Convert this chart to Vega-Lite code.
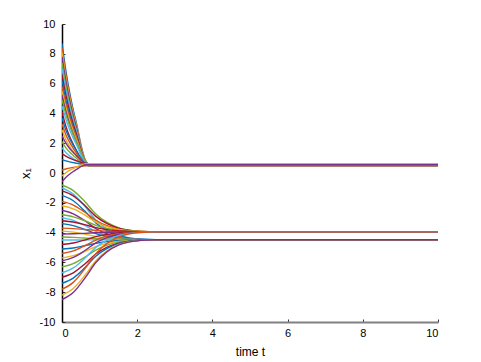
{
"$schema":"https://vega.github.io/schema/vega-lite/v6.json",
"width":376,"height":298,
"autosize":{"type":"none"},
"padding":{"left":62,"top":24,"right":43,"bottom":40},
"background":"white",
"config":{"view":{"stroke":null},"font":"Liberation Sans"},
"data":{"values":[
{"s":"u01","t":0,"v":8.7},{"s":"u01","t":0.1,"v":6.91},{"s":"u01","t":0.2,"v":5.44},{"s":"u01","t":0.3,"v":4.22},{"s":"u01","t":0.4,"v":3.16},{"s":"u01","t":0.5,"v":1.94},{"s":"u01","t":0.6,"v":0.97},{"s":"u01","t":0.7,"v":0.56},{"s":"u01","t":10,"v":0.56},
{"s":"u02","t":0,"v":8.4},{"s":"u02","t":0.1,"v":6.66},{"s":"u02","t":0.2,"v":5.23},{"s":"u02","t":0.3,"v":4.04},{"s":"u02","t":0.4,"v":3.01},{"s":"u02","t":0.5,"v":1.83},{"s":"u02","t":0.6,"v":0.88},{"s":"u02","t":0.7,"v":0.50},{"s":"u02","t":10,"v":0.50},
{"s":"u03","t":0,"v":8.1},{"s":"u03","t":0.1,"v":6.46},{"s":"u03","t":0.2,"v":5.12},{"s":"u03","t":0.3,"v":3.99},{"s":"u03","t":0.4,"v":3.03},{"s":"u03","t":0.5,"v":1.91},{"s":"u03","t":0.6,"v":1.01},{"s":"u03","t":0.7,"v":0.62},{"s":"u03","t":10,"v":0.62},
{"s":"u04","t":0,"v":7.8},{"s":"u04","t":0.1,"v":6.21},{"s":"u04","t":0.2,"v":4.90},{"s":"u04","t":0.3,"v":3.82},{"s":"u04","t":0.4,"v":2.88},{"s":"u04","t":0.5,"v":1.79},{"s":"u04","t":0.6,"v":0.92},{"s":"u04","t":0.7,"v":0.56},{"s":"u04","t":10,"v":0.56},
{"s":"u05","t":0,"v":7.4},{"s":"u05","t":0.1,"v":5.88},{"s":"u05","t":0.2,"v":4.63},{"s":"u05","t":0.3,"v":3.59},{"s":"u05","t":0.4,"v":2.69},{"s":"u05","t":0.5,"v":1.66},{"s":"u05","t":0.6,"v":0.83},{"s":"u05","t":0.7,"v":0.50},{"s":"u05","t":10,"v":0.50},
{"s":"u06","t":0,"v":7.0},{"s":"u06","t":0.1,"v":5.60},{"s":"u06","t":0.2,"v":4.46},{"s":"u06","t":0.3,"v":3.50},{"s":"u06","t":0.4,"v":2.68},{"s":"u06","t":0.5,"v":1.72},{"s":"u06","t":0.6,"v":0.96},{"s":"u06","t":0.7,"v":0.62},{"s":"u06","t":10,"v":0.62},
{"s":"u07","t":0,"v":6.6},{"s":"u07","t":0.1,"v":5.27},{"s":"u07","t":0.2,"v":4.18},{"s":"u07","t":0.3,"v":3.28},{"s":"u07","t":0.4,"v":2.49},{"s":"u07","t":0.5,"v":1.59},{"s":"u07","t":0.6,"v":0.86},{"s":"u07","t":0.7,"v":0.56},{"s":"u07","t":10,"v":0.56},
{"s":"u08","t":0,"v":6.2},{"s":"u08","t":0.1,"v":4.94},{"s":"u08","t":0.2,"v":3.91},{"s":"u08","t":0.3,"v":3.05},{"s":"u08","t":0.4,"v":2.31},{"s":"u08","t":0.5,"v":1.45},{"s":"u08","t":0.6,"v":0.77},{"s":"u08","t":0.7,"v":0.50},{"s":"u08","t":10,"v":0.50},
{"s":"u09","t":0,"v":5.8},{"s":"u09","t":0.1,"v":4.66},{"s":"u09","t":0.2,"v":3.74},{"s":"u09","t":0.3,"v":2.96},{"s":"u09","t":0.4,"v":2.29},{"s":"u09","t":0.5,"v":1.52},{"s":"u09","t":0.6,"v":0.90},{"s":"u09","t":0.7,"v":0.62},{"s":"u09","t":10,"v":0.62},
{"s":"u10","t":0,"v":5.5},{"s":"u10","t":0.1,"v":4.41},{"s":"u10","t":0.2,"v":3.52},{"s":"u10","t":0.3,"v":2.78},{"s":"u10","t":0.4,"v":2.14},{"s":"u10","t":0.5,"v":1.40},{"s":"u10","t":0.6,"v":0.81},{"s":"u10","t":0.7,"v":0.56},{"s":"u10","t":10,"v":0.56},
{"s":"u11","t":0,"v":5.2},{"s":"u11","t":0.1,"v":4.16},{"s":"u11","t":0.2,"v":3.31},{"s":"u11","t":0.3,"v":2.60},{"s":"u11","t":0.4,"v":1.99},{"s":"u11","t":0.5,"v":1.28},{"s":"u11","t":0.6,"v":0.72},{"s":"u11","t":0.7,"v":0.50},{"s":"u11","t":10,"v":0.50},
{"s":"u12","t":0,"v":4.9},{"s":"u12","t":0.1,"v":3.96},{"s":"u12","t":0.2,"v":3.20},{"s":"u12","t":0.3,"v":2.56},{"s":"u12","t":0.4,"v":2.00},{"s":"u12","t":0.5,"v":1.36},{"s":"u12","t":0.6,"v":0.85},{"s":"u12","t":0.7,"v":0.62},{"s":"u12","t":10,"v":0.62},
{"s":"u13","t":0,"v":4.5},{"s":"u13","t":0.1,"v":3.63},{"s":"u13","t":0.2,"v":2.92},{"s":"u13","t":0.3,"v":2.33},{"s":"u13","t":0.4,"v":1.82},{"s":"u13","t":0.5,"v":1.23},{"s":"u13","t":0.6,"v":0.76},{"s":"u13","t":0.7,"v":0.56},{"s":"u13","t":10,"v":0.56},
{"s":"u14","t":0,"v":4.1},{"s":"u14","t":0.1,"v":3.16},{"s":"u14","t":0.2,"v":2.47},{"s":"u14","t":0.3,"v":1.93},{"s":"u14","t":0.4,"v":1.42},{"s":"u14","t":0.5,"v":0.91},{"s":"u14","t":0.6,"v":0.56},{"s":"u14","t":0.7,"v":0.50},{"s":"u14","t":10,"v":0.50},
{"s":"u15","t":0,"v":3.7},{"s":"u15","t":0.1,"v":2.90},{"s":"u15","t":0.2,"v":2.32},{"s":"u15","t":0.3,"v":1.86},{"s":"u15","t":0.4,"v":1.44},{"s":"u15","t":0.5,"v":1.01},{"s":"u15","t":0.6,"v":0.69},{"s":"u15","t":0.7,"v":0.62},{"s":"u15","t":10,"v":0.62},
{"s":"u16","t":0,"v":3.3},{"s":"u16","t":0.1,"v":2.59},{"s":"u16","t":0.2,"v":2.07},{"s":"u16","t":0.3,"v":1.66},{"s":"u16","t":0.4,"v":1.27},{"s":"u16","t":0.5,"v":0.89},{"s":"u16","t":0.6,"v":0.61},{"s":"u16","t":0.7,"v":0.56},{"s":"u16","t":10,"v":0.56},
{"s":"u17","t":0,"v":2.9},{"s":"u17","t":0.1,"v":2.27},{"s":"u17","t":0.2,"v":1.81},{"s":"u17","t":0.3,"v":1.45},{"s":"u17","t":0.4,"v":1.11},{"s":"u17","t":0.5,"v":0.77},{"s":"u17","t":0.6,"v":0.54},{"s":"u17","t":0.7,"v":0.50},{"s":"u17","t":10,"v":0.50},
{"s":"u18","t":0,"v":2.5},{"s":"u18","t":0.1,"v":2.02},{"s":"u18","t":0.2,"v":1.66},{"s":"u18","t":0.3,"v":1.38},{"s":"u18","t":0.4,"v":1.12},{"s":"u18","t":0.5,"v":0.86},{"s":"u18","t":0.6,"v":0.67},{"s":"u18","t":0.7,"v":0.62},{"s":"u18","t":10,"v":0.62},
{"s":"u19","t":0,"v":2.1},{"s":"u19","t":0.1,"v":1.70},{"s":"u19","t":0.2,"v":1.41},{"s":"u19","t":0.3,"v":1.18},{"s":"u19","t":0.4,"v":0.96},{"s":"u19","t":0.5,"v":0.74},{"s":"u19","t":0.6,"v":0.59},{"s":"u19","t":0.7,"v":0.56},{"s":"u19","t":10,"v":0.56},
{"s":"u20","t":0,"v":1.7},{"s":"u20","t":0.1,"v":1.38},{"s":"u20","t":0.2,"v":1.15},{"s":"u20","t":0.3,"v":0.97},{"s":"u20","t":0.4,"v":0.80},{"s":"u20","t":0.5,"v":0.63},{"s":"u20","t":0.6,"v":0.52},{"s":"u20","t":0.7,"v":0.50},{"s":"u20","t":10,"v":0.50},
{"s":"u21","t":0,"v":1.3},{"s":"u21","t":0.1,"v":1.13},{"s":"u21","t":0.2,"v":1.00},{"s":"u21","t":0.3,"v":0.90},{"s":"u21","t":0.4,"v":0.81},{"s":"u21","t":0.5,"v":0.72},{"s":"u21","t":0.6,"v":0.64},{"s":"u21","t":0.7,"v":0.62},{"s":"u21","t":10,"v":0.62},
{"s":"u22","t":0,"v":0.9},{"s":"u22","t":0.1,"v":0.81},{"s":"u22","t":0.2,"v":0.75},{"s":"u22","t":0.3,"v":0.70},{"s":"u22","t":0.4,"v":0.65},{"s":"u22","t":0.5,"v":0.60},{"s":"u22","t":0.6,"v":0.57},{"s":"u22","t":0.7,"v":0.56},{"s":"u22","t":10,"v":0.56},
{"s":"u23","t":0,"v":0.2},{"s":"u23","t":0.1,"v":0.27},{"s":"u23","t":0.2,"v":0.33},{"s":"u23","t":0.3,"v":0.37},{"s":"u23","t":0.4,"v":0.41},{"s":"u23","t":0.5,"v":0.45},{"s":"u23","t":0.6,"v":0.48},{"s":"u23","t":0.7,"v":0.50},{"s":"u23","t":10,"v":0.50},
{"s":"u24","t":0,"v":-0.2},{"s":"u24","t":0.1,"v":0.02},{"s":"u24","t":0.2,"v":0.18},{"s":"u24","t":0.3,"v":0.30},{"s":"u24","t":0.4,"v":0.42},{"s":"u24","t":0.5,"v":0.53},{"s":"u24","t":0.6,"v":0.60},{"s":"u24","t":0.7,"v":0.62},{"s":"u24","t":10,"v":0.62},
{"s":"u25","t":0,"v":-0.6},{"s":"u25","t":0.1,"v":-0.30},{"s":"u25","t":0.2,"v":-0.08},{"s":"u25","t":0.3,"v":0.10},{"s":"u25","t":0.4,"v":0.26},{"s":"u25","t":0.5,"v":0.42},{"s":"u25","t":0.6,"v":0.54},{"s":"u25","t":0.7,"v":0.56},{"s":"u25","t":10,"v":0.56},
{"s":"v01","t":0,"v":-0.8},{"s":"v01","t":0.3,"v":-1.18},{"s":"v01","t":0.6,"v":-1.90},{"s":"v01","t":0.9,"v":-2.75},{"s":"v01","t":1.2,"v":-3.32},{"s":"v01","t":1.5,"v":-3.67},{"s":"v01","t":1.8,"v":-3.84},{"s":"v01","t":2.1,"v":-3.92},{"s":"v01","t":2.5,"v":-3.95},{"s":"v01","t":10,"v":-3.95},
{"s":"v02","t":0,"v":-1.0},{"s":"v02","t":0.3,"v":-1.42},{"s":"v02","t":0.6,"v":-2.22},{"s":"v02","t":0.9,"v":-3.16},{"s":"v02","t":1.2,"v":-3.78},{"s":"v02","t":1.5,"v":-4.17},{"s":"v02","t":1.8,"v":-4.36},{"s":"v02","t":2.1,"v":-4.45},{"s":"v02","t":2.5,"v":-4.48},{"s":"v02","t":10,"v":-4.48},
{"s":"v03","t":0,"v":-1.2},{"s":"v03","t":0.3,"v":-1.53},{"s":"v03","t":0.6,"v":-2.16},{"s":"v03","t":0.9,"v":-2.91},{"s":"v03","t":1.2,"v":-3.40},{"s":"v03","t":1.5,"v":-3.70},{"s":"v03","t":1.8,"v":-3.85},{"s":"v03","t":2.1,"v":-3.92},{"s":"v03","t":2.5,"v":-3.95},{"s":"v03","t":10,"v":-3.95},
{"s":"v04","t":0,"v":-1.5},{"s":"v04","t":0.3,"v":-1.86},{"s":"v04","t":0.6,"v":-2.54},{"s":"v04","t":0.9,"v":-3.35},{"s":"v04","t":1.2,"v":-3.88},{"s":"v04","t":1.5,"v":-4.21},{"s":"v04","t":1.8,"v":-4.38},{"s":"v04","t":2.1,"v":-4.45},{"s":"v04","t":2.5,"v":-4.48},{"s":"v04","t":10,"v":-4.48},
{"s":"v05","t":0,"v":-1.9},{"s":"v05","t":0.3,"v":-2.15},{"s":"v05","t":0.6,"v":-2.62},{"s":"v05","t":0.9,"v":-3.17},{"s":"v05","t":1.2,"v":-3.54},{"s":"v05","t":1.5,"v":-3.77},{"s":"v05","t":1.8,"v":-3.88},{"s":"v05","t":2.1,"v":-3.93},{"s":"v05","t":2.5,"v":-3.95},{"s":"v05","t":10,"v":-3.95},
{"s":"v06","t":0,"v":-2.2},{"s":"v06","t":0.3,"v":-2.41},{"s":"v06","t":0.6,"v":-2.81},{"s":"v06","t":0.9,"v":-3.29},{"s":"v06","t":1.2,"v":-3.60},{"s":"v06","t":1.5,"v":-3.79},{"s":"v06","t":1.8,"v":-3.89},{"s":"v06","t":2.1,"v":-3.93},{"s":"v06","t":2.5,"v":-3.95},{"s":"v06","t":10,"v":-3.95},
{"s":"v07","t":0,"v":-2.5},{"s":"v07","t":0.3,"v":-2.74},{"s":"v07","t":0.6,"v":-3.19},{"s":"v07","t":0.9,"v":-3.73},{"s":"v07","t":1.2,"v":-4.08},{"s":"v07","t":1.5,"v":-4.30},{"s":"v07","t":1.8,"v":-4.41},{"s":"v07","t":2.1,"v":-4.46},{"s":"v07","t":2.5,"v":-4.48},{"s":"v07","t":10,"v":-4.48},
{"s":"v08","t":0,"v":-2.8},{"s":"v08","t":0.3,"v":-2.94},{"s":"v08","t":0.6,"v":-3.20},{"s":"v08","t":0.9,"v":-3.51},{"s":"v08","t":1.2,"v":-3.72},{"s":"v08","t":1.5,"v":-3.85},{"s":"v08","t":1.8,"v":-3.91},{"s":"v08","t":2.1,"v":-3.94},{"s":"v08","t":2.5,"v":-3.95},{"s":"v08","t":10,"v":-3.95},
{"s":"v09","t":0,"v":-3.0},{"s":"v09","t":0.3,"v":-3.18},{"s":"v09","t":0.6,"v":-3.52},{"s":"v09","t":0.9,"v":-3.92},{"s":"v09","t":1.2,"v":-4.18},{"s":"v09","t":1.5,"v":-4.35},{"s":"v09","t":1.8,"v":-4.43},{"s":"v09","t":2.1,"v":-4.47},{"s":"v09","t":2.5,"v":-4.48},{"s":"v09","t":10,"v":-4.48},
{"s":"v10","t":0,"v":-3.2},{"s":"v10","t":0.3,"v":-3.29},{"s":"v10","t":0.6,"v":-3.46},{"s":"v10","t":0.9,"v":-3.67},{"s":"v10","t":1.2,"v":-3.80},{"s":"v10","t":1.5,"v":-3.88},{"s":"v10","t":1.8,"v":-3.92},{"s":"v10","t":2.1,"v":-3.94},{"s":"v10","t":2.5,"v":-3.95},{"s":"v10","t":10,"v":-3.95},
{"s":"v11","t":0,"v":-3.4},{"s":"v11","t":0.3,"v":-3.53},{"s":"v11","t":0.6,"v":-3.78},{"s":"v11","t":0.9,"v":-4.07},{"s":"v11","t":1.2,"v":-4.26},{"s":"v11","t":1.5,"v":-4.38},{"s":"v11","t":1.8,"v":-4.44},{"s":"v11","t":2.1,"v":-4.47},{"s":"v11","t":2.5,"v":-4.48},{"s":"v11","t":10,"v":-4.48},
{"s":"v12","t":0,"v":-3.7},{"s":"v12","t":0.3,"v":-3.73},{"s":"v12","t":0.6,"v":-3.79},{"s":"v12","t":0.9,"v":-3.85},{"s":"v12","t":1.2,"v":-3.90},{"s":"v12","t":1.5,"v":-3.93},{"s":"v12","t":1.8,"v":-3.94},{"s":"v12","t":2.1,"v":-3.95},{"s":"v12","t":2.5,"v":-3.95},{"s":"v12","t":10,"v":-3.95},
{"s":"v13","t":0,"v":-3.9},{"s":"v13","t":0.3,"v":-3.97},{"s":"v13","t":0.6,"v":-4.10},{"s":"v13","t":0.9,"v":-4.26},{"s":"v13","t":1.2,"v":-4.36},{"s":"v13","t":1.5,"v":-4.43},{"s":"v13","t":1.8,"v":-4.46},{"s":"v13","t":2.1,"v":-4.47},{"s":"v13","t":2.5,"v":-4.48},{"s":"v13","t":10,"v":-4.48},
{"s":"v14","t":0,"v":-4.1},{"s":"v14","t":0.3,"v":-4.08},{"s":"v14","t":0.6,"v":-4.05},{"s":"v14","t":0.9,"v":-4.01},{"s":"v14","t":1.2,"v":-3.98},{"s":"v14","t":1.5,"v":-3.96},{"s":"v14","t":1.8,"v":-3.96},{"s":"v14","t":2.1,"v":-3.95},{"s":"v14","t":2.5,"v":-3.95},{"s":"v14","t":10,"v":-3.95},
{"s":"v15","t":0,"v":-4.3},{"s":"v15","t":0.3,"v":-4.32},{"s":"v15","t":0.6,"v":-4.36},{"s":"v15","t":0.9,"v":-4.41},{"s":"v15","t":1.2,"v":-4.44},{"s":"v15","t":1.5,"v":-4.46},{"s":"v15","t":1.8,"v":-4.47},{"s":"v15","t":2.1,"v":-4.48},{"s":"v15","t":2.5,"v":-4.48},{"s":"v15","t":10,"v":-4.48},
{"s":"v16","t":0,"v":-4.5},{"s":"v16","t":0.3,"v":-4.50},{"s":"v16","t":0.6,"v":-4.49},{"s":"v16","t":0.9,"v":-4.49},{"s":"v16","t":1.2,"v":-4.48},{"s":"v16","t":1.5,"v":-4.48},{"s":"v16","t":1.8,"v":-4.48},{"s":"v16","t":2.1,"v":-4.48},{"s":"v16","t":2.5,"v":-4.48},{"s":"v16","t":10,"v":-4.48},
{"s":"v17","t":0,"v":-4.8},{"s":"v17","t":0.3,"v":-4.70},{"s":"v17","t":0.6,"v":-4.50},{"s":"v17","t":0.9,"v":-4.27},{"s":"v17","t":1.2,"v":-4.12},{"s":"v17","t":1.5,"v":-4.03},{"s":"v17","t":1.8,"v":-3.98},{"s":"v17","t":2.1,"v":-3.96},{"s":"v17","t":2.5,"v":-3.95},{"s":"v17","t":10,"v":-3.95},
{"s":"v18","t":0,"v":-5.1},{"s":"v18","t":0.3,"v":-5.03},{"s":"v18","t":0.6,"v":-4.88},{"s":"v18","t":0.9,"v":-4.72},{"s":"v18","t":1.2,"v":-4.60},{"s":"v18","t":1.5,"v":-4.54},{"s":"v18","t":1.8,"v":-4.50},{"s":"v18","t":2.1,"v":-4.49},{"s":"v18","t":2.5,"v":-4.48},{"s":"v18","t":10,"v":-4.48},
{"s":"v19","t":0,"v":-5.4},{"s":"v19","t":0.3,"v":-5.23},{"s":"v19","t":0.6,"v":-4.89},{"s":"v19","t":0.9,"v":-4.50},{"s":"v19","t":1.2,"v":-4.24},{"s":"v19","t":1.5,"v":-4.08},{"s":"v19","t":1.8,"v":-4.00},{"s":"v19","t":2.1,"v":-3.96},{"s":"v19","t":2.5,"v":-3.95},{"s":"v19","t":10,"v":-3.95},
{"s":"v20","t":0,"v":-5.7},{"s":"v20","t":0.3,"v":-5.55},{"s":"v20","t":0.6,"v":-5.27},{"s":"v20","t":0.9,"v":-4.94},{"s":"v20","t":1.2,"v":-4.72},{"s":"v20","t":1.5,"v":-4.59},{"s":"v20","t":1.8,"v":-4.52},{"s":"v20","t":2.1,"v":-4.49},{"s":"v20","t":2.5,"v":-4.48},{"s":"v20","t":10,"v":-4.48},
{"s":"v21","t":0,"v":-5.9},{"s":"v21","t":0.3,"v":-5.67},{"s":"v21","t":0.6,"v":-5.22},{"s":"v21","t":0.9,"v":-4.69},{"s":"v21","t":1.2,"v":-4.34},{"s":"v21","t":1.5,"v":-4.13},{"s":"v21","t":1.8,"v":-4.02},{"s":"v21","t":2.1,"v":-3.97},{"s":"v21","t":2.5,"v":-3.95},{"s":"v21","t":10,"v":-3.95},
{"s":"v22","t":0,"v":-6.3},{"s":"v22","t":0.3,"v":-6.08},{"s":"v22","t":0.6,"v":-5.66},{"s":"v22","t":0.9,"v":-5.17},{"s":"v22","t":1.2,"v":-4.84},{"s":"v22","t":1.5,"v":-4.64},{"s":"v22","t":1.8,"v":-4.54},{"s":"v22","t":2.1,"v":-4.50},{"s":"v22","t":2.5,"v":-4.48},{"s":"v22","t":10,"v":-4.48},
{"s":"v23","t":0,"v":-6.7},{"s":"v23","t":0.3,"v":-6.37},{"s":"v23","t":0.6,"v":-5.74},{"s":"v23","t":0.9,"v":-4.99},{"s":"v23","t":1.2,"v":-4.50},{"s":"v23","t":1.5,"v":-4.20},{"s":"v23","t":1.8,"v":-4.05},{"s":"v23","t":2.1,"v":-3.98},{"s":"v23","t":2.5,"v":-3.95},{"s":"v23","t":10,"v":-3.95},
{"s":"v24","t":0,"v":-7.0},{"s":"v24","t":0.3,"v":-6.70},{"s":"v24","t":0.6,"v":-6.12},{"s":"v24","t":0.9,"v":-5.44},{"s":"v24","t":1.2,"v":-4.98},{"s":"v24","t":1.5,"v":-4.71},{"s":"v24","t":1.8,"v":-4.57},{"s":"v24","t":2.1,"v":-4.51},{"s":"v24","t":2.5,"v":-4.48},{"s":"v24","t":10,"v":-4.48},
{"s":"v25","t":0,"v":-7.4},{"s":"v25","t":0.3,"v":-7.05},{"s":"v25","t":0.6,"v":-6.38},{"s":"v25","t":0.9,"v":-5.59},{"s":"v25","t":1.2,"v":-5.06},{"s":"v25","t":1.5,"v":-4.74},{"s":"v25","t":1.8,"v":-4.58},{"s":"v25","t":2.1,"v":-4.51},{"s":"v25","t":2.5,"v":-4.48},{"s":"v25","t":10,"v":-4.48},
{"s":"v26","t":0,"v":-7.8},{"s":"v26","t":0.3,"v":-7.34},{"s":"v26","t":0.6,"v":-6.45},{"s":"v26","t":0.9,"v":-5.41},{"s":"v26","t":1.2,"v":-4.72},{"s":"v26","t":1.5,"v":-4.30},{"s":"v26","t":1.8,"v":-4.08},{"s":"v26","t":2.1,"v":-3.99},{"s":"v26","t":2.5,"v":-3.95},{"s":"v26","t":10,"v":-3.95},
{"s":"v27","t":0,"v":-8.2},{"s":"v27","t":0.3,"v":-7.75},{"s":"v27","t":0.6,"v":-6.90},{"s":"v27","t":0.9,"v":-5.89},{"s":"v27","t":1.2,"v":-5.22},{"s":"v27","t":1.5,"v":-4.81},{"s":"v27","t":1.8,"v":-4.61},{"s":"v27","t":2.1,"v":-4.52},{"s":"v27","t":2.5,"v":-4.48},{"s":"v27","t":10,"v":-4.48},
{"s":"v28","t":0,"v":-8.5},{"s":"v28","t":0.3,"v":-8.02},{"s":"v28","t":0.6,"v":-7.09},{"s":"v28","t":0.9,"v":-6.01},{"s":"v28","t":1.2,"v":-5.28},{"s":"v28","t":1.5,"v":-4.84},{"s":"v28","t":1.8,"v":-4.62},{"s":"v28","t":2.1,"v":-4.52},{"s":"v28","t":2.5,"v":-4.48},{"s":"v28","t":10,"v":-4.48}
]},
"mark":{"type":"line","interpolate":"monotone","strokeWidth":1.4,"clip":true},
"encoding":{
"x":{"field":"t","type":"quantitative","title":"time t",
 "scale":{"domain":[0,10],"nice":false,"zero":false},
 "axis":{"values":[0,2,4,6,8,10],"grid":false,"domainColor":"#808080","domainWidth":2,"tickColor":"#333333","tickSize":-3,"tickWidth":1,
 "labelFontSize":11,"labelColor":"#000000","labelPadding":8,"labelFont":"Liberation Sans","labelExpr":"datum.value + ''",
 "titleFontSize":12,"titleFontWeight":"normal","titleColor":"#000000","titlePadding":8,"titleFont":"Liberation Sans"}},
"y":{"field":"v","type":"quantitative","title":"x₁",
 "scale":{"domain":[-10,10],"nice":false,"zero":false},
 "axis":{"values":[-10,-8,-6,-4,-2,0,2,4,6,8,10],"grid":false,"domainColor":"#000000","domainWidth":1.5,"tickColor":"#333333","tickSize":-3,"tickWidth":1,
 "labelFontSize":11,"labelColor":"#000000","labelPadding":10,"labelFont":"Liberation Sans","labelExpr":"datum.value + ''",
 "titleFontSize":13,"titleFontWeight":"normal","titleColor":"#000000","titlePadding":7,"titleFont":"Liberation Sans"}},
"color":{"field":"s","type":"nominal","legend":null,
 "scale":{"range":["#0072BD","#D95319","#EDB120","#7E2F8E","#77AC30","#4DBEEE","#A2142F"]}}
}
}
